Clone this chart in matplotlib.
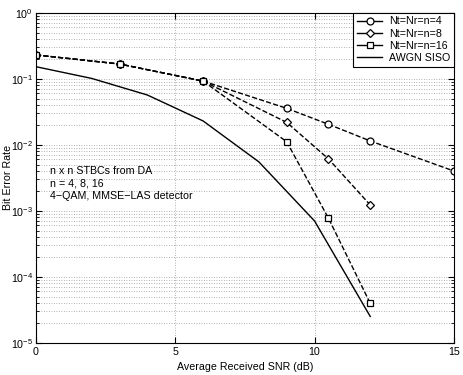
import matplotlib
matplotlib.use('Agg')
import matplotlib.pyplot as plt
from matplotlib.ticker import LogLocator, NullFormatter

plt.rcParams['font.family'] = ['Liberation Sans', 'DejaVu Sans']
plt.rcParams['mathtext.fontset'] = 'custom'
plt.rcParams['mathtext.rm'] = 'Liberation Sans'
plt.rcParams['mathtext.it'] = 'Liberation Sans:italic'
plt.rcParams['font.size'] = 7.7

# 数据
snr_n4 = [0, 3, 6, 9, 10.5, 12, 15]
ber_n4 = [0.229, 0.167, 0.092, 0.0356, 0.0204, 0.0114, 0.0040]
snr_n8 = [0, 3, 6, 9, 10.5, 12]
ber_n8 = [0.229, 0.167, 0.092, 0.0218, 0.0061, 0.00122]
snr_n16 = [0, 3, 6, 9, 10.5, 12]
ber_n16 = [0.229, 0.167, 0.092, 0.0111, 0.00077, 0.0000395]
snr_awgn = [0, 2, 4, 6, 8, 10, 12]
ber_awgn = [0.152, 0.101, 0.0566, 0.0229, 0.0055, 0.00070, 0.000025]
labels = ['Nt=Nr=n=4', 'Nt=Nr=n=8', 'Nt=Nr=n=16', 'AWGN SISO']
note = 'n x n STBCs from DA\nn = 4, 8, 16\n4\u2212QAM, MMSE\u2212LAS detector'

fig = plt.figure(figsize=(4.64, 3.75), dpi=100)
ax = fig.add_axes([0.0776, 0.0861, 0.9004, 0.8800])

ax.semilogy(snr_n4, ber_n4, 'k--', marker='o', ms=5, mfc='white', mew=0.9, lw=1.0, label=labels[0])
ax.semilogy(snr_n8, ber_n8, 'k--', marker='D', ms=4, mfc='white', mew=0.9, lw=1.0, label=labels[1])
ax.semilogy(snr_n16, ber_n16, 'k--', marker='s', ms=4, mfc='white', mew=0.9, lw=1.0, label=labels[2])
ax.semilogy(snr_awgn, ber_awgn, 'k-', lw=1.0, label=labels[3])

ax.set_xlim(0, 15)
ax.set_ylim(1e-5, 1)
ax.set_xticks([0, 5, 10, 15])
ax.yaxis.set_major_locator(LogLocator(base=10, numticks=10))
ax.yaxis.set_minor_locator(LogLocator(base=10, subs=range(2, 10), numticks=10))
ax.yaxis.set_minor_formatter(NullFormatter())
ax.tick_params(direction='in', which='both', top=True, right=True, labelsize=7.7)
ax.tick_params(axis='x', pad=3)
ax.tick_params(axis='y', pad=2)
ax.tick_params(which='major', length=4)
ax.tick_params(which='minor', length=2)

ax.grid(True, which='major', axis='both', ls=(0, (1, 2)), color='0.6', lw=0.6)
ax.grid(True, which='minor', axis='y', ls=(0, (1, 2)), color='0.6', lw=0.6)

ax.set_xlabel('Average Received SNR (dB)', fontsize=7.7, labelpad=4)
ax.set_ylabel('Bit Error Rate', fontsize=7.7)
ax.yaxis.set_label_coords(-0.055, 0.5)

ax.text(0.033, 0.535, note, transform=ax.transAxes, fontsize=7.7, va='top', ha='left',
        linespacing=1.3)

leg = ax.legend(loc='upper right', fontsize=7.7, fancybox=False, framealpha=1,
                edgecolor='black', borderaxespad=0, handlelength=2.4,
                labelspacing=0.2, borderpad=0.35, handletextpad=0.6)
leg.get_frame().set_linewidth(0.8)
for h in leg.legend_handles:
    h.set_linestyle('-')

for spine in ax.spines.values():
    spine.set_linewidth(0.8)

fig.savefig('out.png', dpi=100)
